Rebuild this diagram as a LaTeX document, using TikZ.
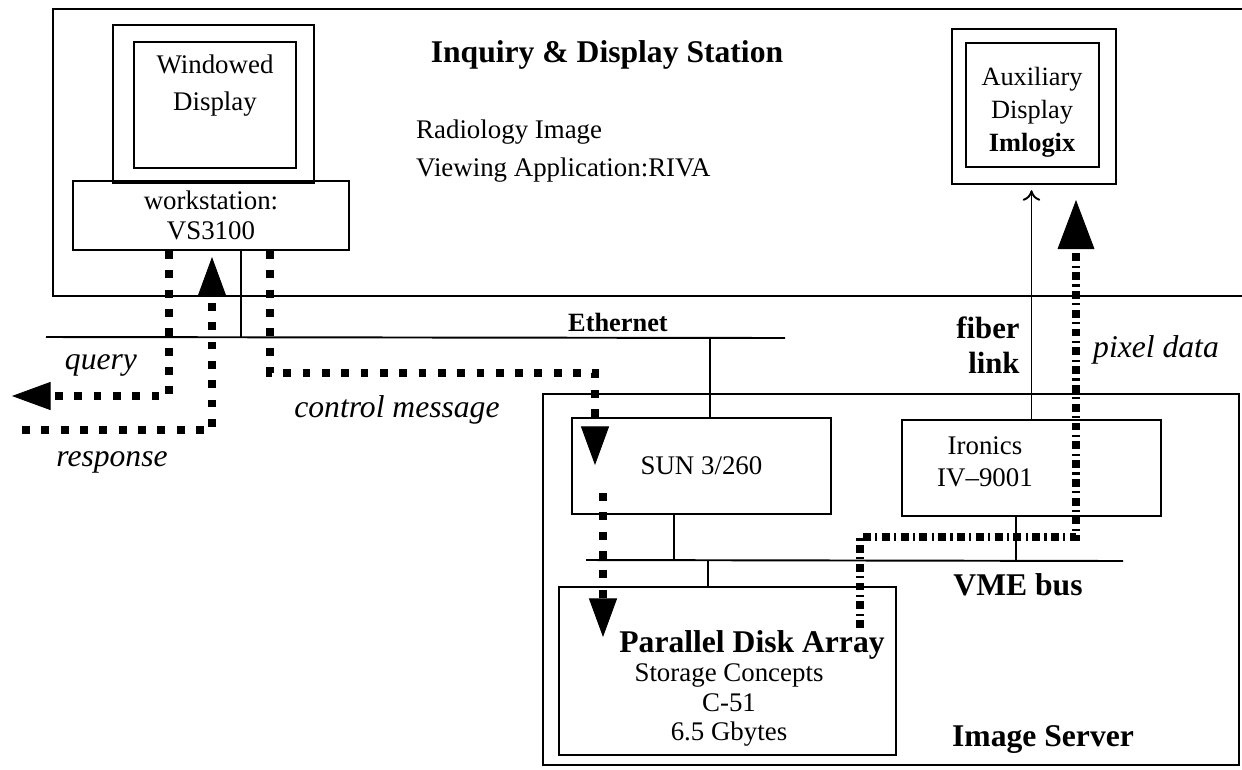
\documentclass[tikz,border=0pt]{standalone}
\usepackage{fontspec}
\setmainfont{Liberation Serif}
\usepackage{tikz}
\usetikzlibrary{arrows.meta,positioning}

\tikzset{
	box/.style={draw, line width=1.1pt, inner sep=0pt},
	txt/.style={font=\fontsize{15.3}{18}\selectfont, align=center},
	lbl/.style={font=\bfseries\fontsize{18}{21}\selectfont, align=center},
	msg/.style={font=\itshape\fontsize{18}{21}\selectfont},
	wire/.style={line width=1.1pt},
	flow/.style={line width=4pt, dash pattern=on 4.5pt off 6.5pt},
	pix/.style={line width=4pt, dash pattern=on 4.5pt off 2.5pt on 1.2pt off 2.5pt},
	head/.style={-{Triangle[length=22pt,width=16pt,line width=0.5pt]}},
	bighead/.style={-{Triangle[length=28pt,width=21pt,line width=0.5pt]}},
}

\begin{document}
\begin{tikzpicture}[x=0.02cm, y=-0.02cm]
	\useasboundingbox (0,0) rectangle (1242,769);

	% inquiry & display station
	\draw [wire] (1242,9) -- (53,9) -- (53,296) -- (1242,296);
	\node (title) at (607,55) [lbl] {Inquiry \& Display Station};
	\node (riva) at (410,151) [txt, anchor=west, align=left, font=\fontsize{15.3}{21.5}\selectfont] {Radiology Image\\Viewing Application:RIVA};

	\node (monout) at (213.5,104) [box, minimum width=4.02cm, minimum height=3.16cm] {};
	\node (monin) at (215,105) [box, minimum width=3.24cm, minimum height=2.52cm] {};
	\node (wintxt) at (215,86) [txt, font=\fontsize{15.3}{21}\selectfont] {Windowed\\Display};
	\node (ws) at (211,215.5) [box, txt, minimum width=5.52cm, minimum height=1.38cm, font=\fontsize{15.3}{17}\selectfont] {workstation:\\VS3100};

	\node (auxout) at (1034,106.5) [box, minimum width=3.28cm, minimum height=3.10cm] {};
	\node (auxin) at (1032.5,105) [box, minimum width=2.66cm, minimum height=2.48cm] {};
	\node (auxtxt) at (1032,112) [txt, font=\fontsize{15}{18.7}\selectfont] {Auxiliary\\Display\\\textbf{Imlogix}};

	% ethernet
	\coordinate (ethL) at (46,337);
	\coordinate (ethR) at (785,338);
	\coordinate (ethA) at (241,337);
	\coordinate (ethB) at (710,338);
	\draw [wire] (ethL) -- (ethR);
	\draw [wire] (ws.south -| ethA) -- (ethA);
	\node (eth) at (618,322) [font=\bfseries\fontsize{15}{18}\selectfont] {Ethernet};

	% image server
	\node (server) at (891,579.5) [box, minimum width=13.92cm, minimum height=7.42cm] {};
	\node (srvlbl) at (1043,740) [lbl] {Image Server};
	\node (sun) at (701.5,466) [box, txt, minimum width=5.18cm, minimum height=1.92cm] {SUN 3/260};
	\node (iron) at (1031.5,468) [box, minimum width=5.18cm, minimum height=1.92cm] {};
	\node (irontxt) at (985,462) [txt] {Ironics\\IV--9001};
	\node (disk) at (727.5,671) [box, minimum width=6.74cm, minimum height=3.36cm] {};
	\node (disktitle) at (752,645) [lbl] {Parallel Disk Array};
	\node (disktxt) at (729,705) [txt, font=\fontsize{15.3}{17}\selectfont] {Storage Concepts\\C-51\\6.5 Gbytes};
	\draw [wire] (ethB) -- (sun.north -| ethB);

	% vme bus
	\coordinate (vmeL) at (586,560);
	\coordinate (vmeR) at (1123,561);
	\coordinate (sunV) at (674,560);
	\coordinate (diskV) at (708,560);
	\coordinate (ironV) at (1016,560);
	\draw [wire] (vmeL) -- (vmeR);
	\draw [wire] (sun.south -| sunV) -- (sunV);
	\draw [wire] (diskV) -- (disk.north -| diskV);
	\draw [wire] (iron.south -| ironV) -- (ironV);
	\node (vme) at (1018,585) [lbl] {VME bus};

	% fiber link
	\draw [wire, -{To[length=6pt,width=10pt]}, shorten >=3pt] (iron.north) -- (auxout.south -| iron.north);
	\node (fiber) at (988,345) [lbl, align=right, font=\bfseries\fontsize{17.5}{20}\selectfont] {fiber\\link};
	\node (pixlbl) at (1156,350) [msg] {pixel data};

	% query / response
	\coordinate (q0) at (169,250);
	\coordinate (q1) at (12,396);
	\coordinate (r0) at (22,430);
	\coordinate (r1) at (212,257);
	\draw [flow, head] (ws.south -| q0) |- (q1);
	\draw [flow, head] (r0) -| (r1);
	\node (query) at (101,365) [msg] {query};
	\node (resp) at (112,462) [msg] {response};

	% control message
	\coordinate (c0) at (270,373);
	\coordinate (c1) at (595,465);
	\draw [flow, head] (ws.south -| c0) -- (c0) -| (c1);
	\node (ctrl) at (397,410) [msg] {control message};
	\coordinate (s0) at (603,493);
	\coordinate (s1) at (603,637);
	\draw [flow, head] (s0) -- (s1);

	% pixel data
	\coordinate (p0) at (860,628);
	\coordinate (p1) at (1076,537);
	\coordinate (p2) at (1076,200);
	\draw [pix, bighead] (p0) |- (p1) -- (p2);
\end{tikzpicture}
\end{document}
